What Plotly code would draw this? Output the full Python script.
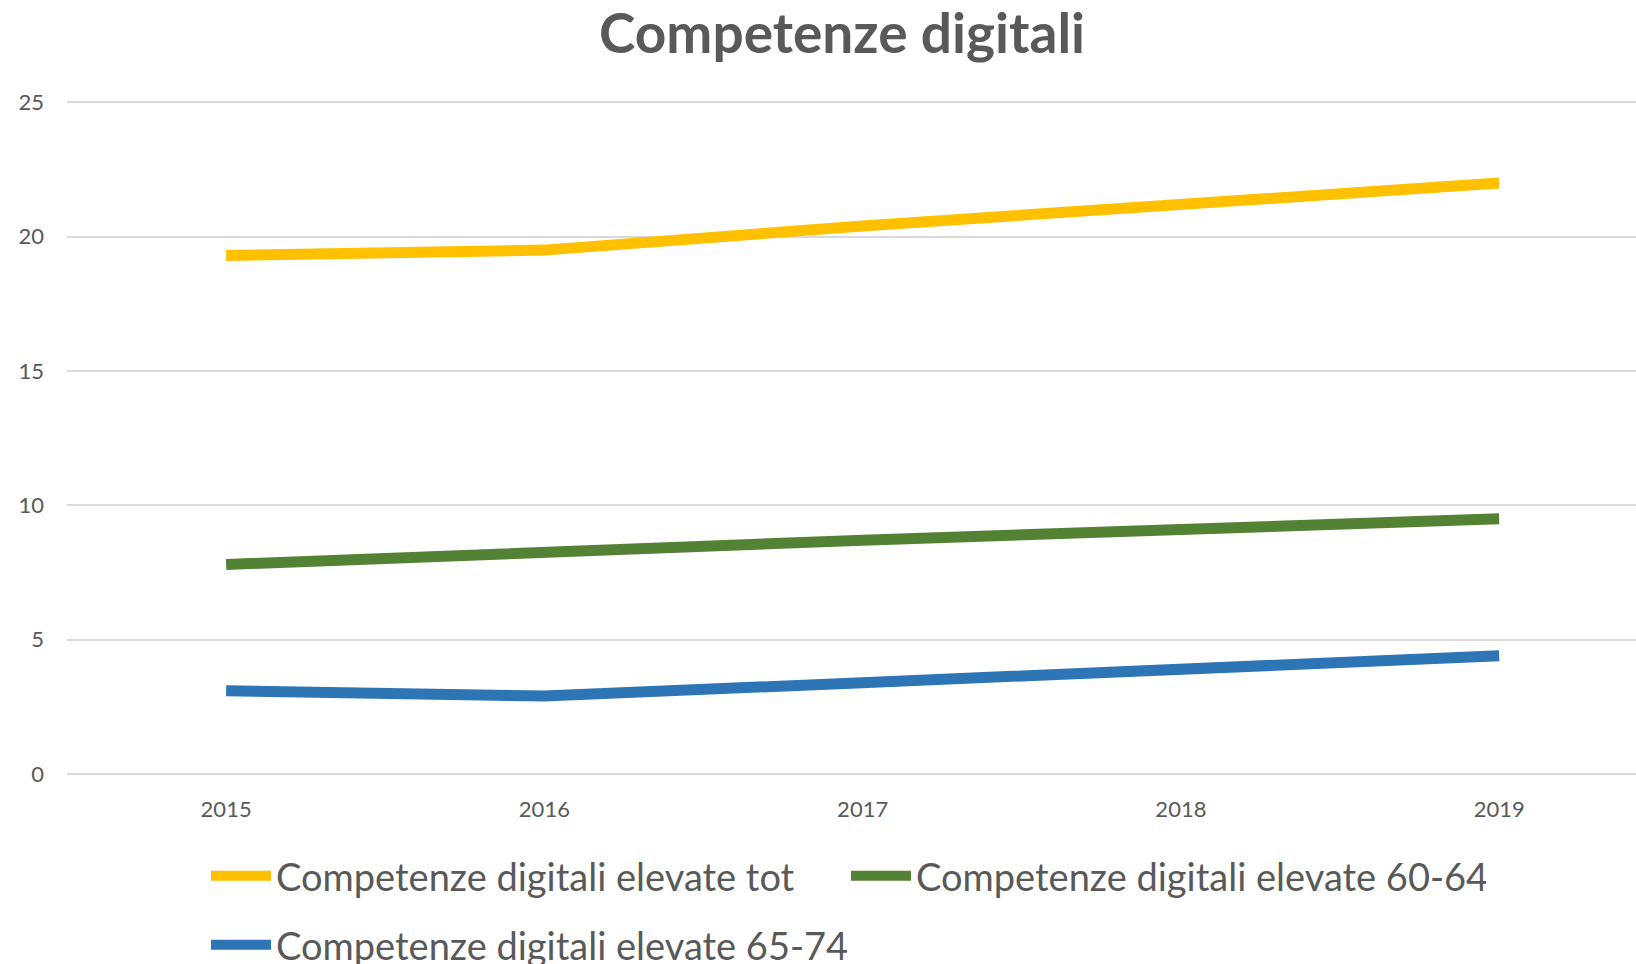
import plotly.graph_objects as go

# data
years = ["2015", "2016", "2017", "2018", "2019"]
tot = [19.3, 19.5, 20.4, 21.2, 22.0]
age_60_64 = [7.8, 8.3, 8.7, 9.1, 9.5]
age_65_74 = [3.1, 2.9, 3.4, 3.9, 4.4]

grey_text = "#595959"
font_family = "Lato"

W, H = 1636, 964

fig = go.Figure()

fig.add_trace(go.Scatter(
    x=years, y=tot, mode="lines",
    name="Competenze digitali elevate tot",
    line=dict(color="#FFC000", width=11),
    legend="legend",
))
fig.add_trace(go.Scatter(
    x=years, y=age_60_64, mode="lines",
    name="Competenze digitali elevate 60-64",
    line=dict(color="#548235", width=11),
    legend="legend",
))
fig.add_trace(go.Scatter(
    x=years, y=age_65_74, mode="lines",
    name="Competenze digitali elevate 65-74",
    line=dict(color="#2E75B6", width=11),
    legend="legend2",
))

legend_style = dict(
    orientation="h",
    xref="container", yref="container",
    xanchor="left", yanchor="middle",
    font=dict(family=font_family, size=38, color=grey_text),
    itemwidth=60,
    bgcolor="rgba(0,0,0,0)",
)

fig.update_layout(
    width=W,
    height=H,
    paper_bgcolor="white",
    plot_bgcolor="white",
    margin=dict(l=67, r=0, t=101, b=H - 774),
    title=dict(
        text="<b>Competenze digitali</b>",
        font=dict(family=font_family, size=55, color=grey_text),
        x=842 / W, xanchor="center", xref="container",
        y=1 - 34 / H, yanchor="middle", yref="container",
    ),
    showlegend=True,
    legend=dict(legend_style, x=206 / W, y=1 - 876 / H,
                entrywidth=565, entrywidthmode="pixels"),
    legend2=dict(legend_style, x=206 / W, y=1 - 945 / H),
    xaxis=dict(
        type="category",
        range=[-0.5, 4.43],
        showgrid=False,
        zeroline=False,
        showline=False,
        ticks="",
        tickfont=dict(family=font_family, size=22, color=grey_text),
        ticklabelstandoff=20,
    ),
    yaxis=dict(
        range=[0, 25.05],
        tickvals=[0, 5, 10, 15, 20, 25],
        showgrid=True,
        gridcolor="#D9D9D9",
        gridwidth=2,
        zeroline=True,
        zerolinecolor="#D9D9D9",
        zerolinewidth=2,
        showline=False,
        ticks="",
        tickfont=dict(family=font_family, size=22, color=grey_text),
        ticklabelstandoff=22,
    ),
)

# drop the default 8px body margin so the figure fills the window
fig.write_html(
    "out.html",
    config={"displayModeBar": False},
    post_script="document.body.style.margin = '0px';",
)
